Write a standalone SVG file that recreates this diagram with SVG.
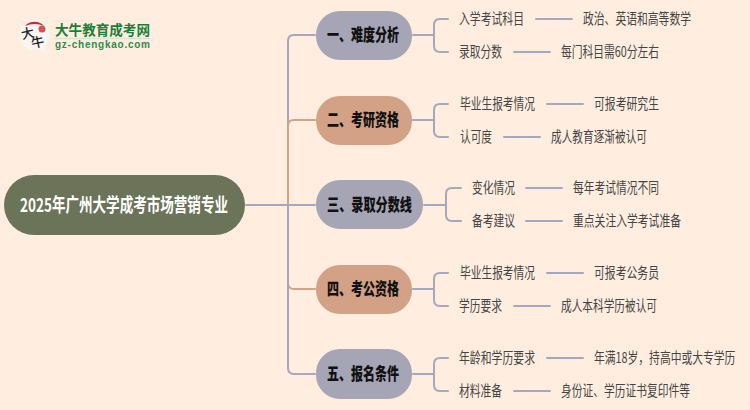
<svg xmlns="http://www.w3.org/2000/svg" width="750" height="410" viewBox="0 0 750 410">
<style>
text{font-family:"Noto Sans CJK SC","Liberation Sans",sans-serif}
.c{fill:none;stroke-width:2;stroke-linecap:round;stroke-linejoin:round}
.g{stroke:#a5a8bd}.o{stroke:#d3a388}
.t{font-size:14.500px;fill:#444}
.h{font-size:17px;font-weight:900;fill:#111}
.p{fill:#a5a5b5}.q{fill:#d2a186}
</style>
<rect width="750" height="410" fill="#ffeee0"/>
<g id="logo">
<path d="M34.500 20a15 15 0 1 0 4 29.500l9.500 3-4.500-5.500a15 15 0 0 0-9-27z" fill="#f6f6f4"/>
<path d="M25 26a13 13 0 0 1 19 0q-9-4-19 0z" fill="#d9272e"/>
<circle cx="42" cy="29" r="3.500" fill="#d9534f"/>
<text x="21" y="38" font-size="13" font-weight="500" fill="#222" transform="rotate(-12 28 33)">大</text>
<text x="31" y="47" font-size="13" font-weight="500" fill="#222" transform="rotate(-12 38 42)">牛</text>
<text x="55" y="35" font-size="14" font-weight="700" fill="#1a7f37" textLength="95" lengthAdjust="spacingAndGlyphs">大牛教育成考网</text>
<path d="M55 38.500H150" stroke="#dde3d3" stroke-width="1.500"/>
<text x="55" y="48" font-size="10" font-weight="700" fill="#2e8b4a" textLength="95" lengthAdjust="spacing" style="font-family:'Liberation Sans',sans-serif">gz-chengkao.com</text>
</g>
<g id="connectors">
<path class="c g" d="M288 205V41Q288 35 294 35H315"/>
<path class="c o" d="M288 205V126Q288 120 294 120H315M288 205V283Q288 289 294 289H315"/>
<path class="c g" d="M246 205H315M288 205V368Q288 374 294 374H315"/>
<path class="c g" d="M413 35H434M434 25V46M434 25Q434 19 440 19H448M434 46Q434 52 440 52H448"/>
<path class="c g" d="M413 120H434M434 110V131M434 110Q434 104 440 104H448M434 131Q434 137 440 137H448"/>
<path class="c g" d="M424 205H446M446 194V215M446 194Q446 188 452 188H461M446 215Q446 221 452 221H461"/>
<path class="c g" d="M413 289H434M434 279V300M434 279Q434 273 440 273H448M434 300Q434 306 440 306H448"/>
<path class="c g" d="M413 374H434M434 364V385M434 364Q434 358 440 358H448M434 385Q434 391 440 391H448"/>
<path class="c g" d="M536 19H572M514 52H550M547 104H583M504 137H540M526 188H562M526 221H562M547 273H583M514 306H550M547 358H583M514 391H550"/>
</g>
<g id="root"><rect x="4" y="175" width="241" height="60" rx="30" fill="#6b7359"/><text x="20" y="211.500" font-size="19" font-weight="700" fill="#fff" textLength="208" lengthAdjust="spacingAndGlyphs">2025年广州大学成考市场营销专业</text></g>
<g id="n1"><rect x="316" y="11" width="96" height="49" rx="24" class="p"/><text x="327" y="41" class="h" textLength="72" lengthAdjust="spacingAndGlyphs">一、难度分析</text></g>
<g id="n2"><rect x="316" y="96" width="96" height="49" rx="24" class="q"/><text x="327" y="126" class="h" textLength="72" lengthAdjust="spacingAndGlyphs">二、考研资格</text></g>
<g id="n3"><rect x="316" y="180" width="107" height="49" rx="24" class="p"/><text x="327" y="210.500" class="h" textLength="85" lengthAdjust="spacingAndGlyphs">三、录取分数线</text></g>
<g id="n4"><rect x="316" y="265" width="96" height="49" rx="24" class="q"/><text x="327" y="295" class="h" textLength="72" lengthAdjust="spacingAndGlyphs">四、考公资格</text></g>
<g id="n5"><rect x="316" y="349" width="96" height="50" rx="24" class="p"/><text x="327" y="380" class="h" textLength="72" lengthAdjust="spacingAndGlyphs">五、报名条件</text></g>
<g id="l1a"><text x="459" y="24" class="t" textLength="65" lengthAdjust="spacingAndGlyphs">入学考试科目</text><text x="583" y="24" class="t" textLength="108" lengthAdjust="spacingAndGlyphs">政治、英语和高等数学</text></g>
<g id="l1b"><text x="459" y="57" class="t" textLength="43" lengthAdjust="spacingAndGlyphs">录取分数</text><text x="561" y="57" class="t" textLength="98" lengthAdjust="spacingAndGlyphs">每门科目需60分左右</text></g>
<g id="l2a"><text x="460" y="109" class="t" textLength="75" lengthAdjust="spacingAndGlyphs">毕业生报考情况</text><text x="594" y="109" class="t" textLength="65" lengthAdjust="spacingAndGlyphs">可报考研究生</text></g>
<g id="l2b"><text x="460" y="142" class="t" textLength="32" lengthAdjust="spacingAndGlyphs">认可度</text><text x="551" y="142" class="t" textLength="96" lengthAdjust="spacingAndGlyphs">成人教育逐渐被认可</text></g>
<g id="l3a"><text x="472" y="193" class="t" textLength="43" lengthAdjust="spacingAndGlyphs">变化情况</text><text x="573" y="193" class="t" textLength="86" lengthAdjust="spacingAndGlyphs">每年考试情况不同</text></g>
<g id="l3b"><text x="472" y="226" class="t" textLength="43" lengthAdjust="spacingAndGlyphs">备考建议</text><text x="573" y="226" class="t" textLength="108" lengthAdjust="spacingAndGlyphs">重点关注入学考试准备</text></g>
<g id="l4a"><text x="460" y="278" class="t" textLength="75" lengthAdjust="spacingAndGlyphs">毕业生报考情况</text><text x="594" y="278" class="t" textLength="65" lengthAdjust="spacingAndGlyphs">可报考公务员</text></g>
<g id="l4b"><text x="459" y="311" class="t" textLength="43" lengthAdjust="spacingAndGlyphs">学历要求</text><text x="561" y="311" class="t" textLength="96" lengthAdjust="spacingAndGlyphs">成人本科学历被认可</text></g>
<g id="l5a"><text x="459" y="363" class="t" textLength="76" lengthAdjust="spacingAndGlyphs">年龄和学历要求</text><text class="t" transform="translate(594 363) scale(.745 1)">年满18岁，持高中或大专学历</text></g>
<g id="l5b"><text x="459" y="396" class="t" textLength="43" lengthAdjust="spacingAndGlyphs">材料准备</text><text x="561" y="396" class="t" textLength="129" lengthAdjust="spacingAndGlyphs">身份证、学历证书复印件等</text></g>
</svg>
